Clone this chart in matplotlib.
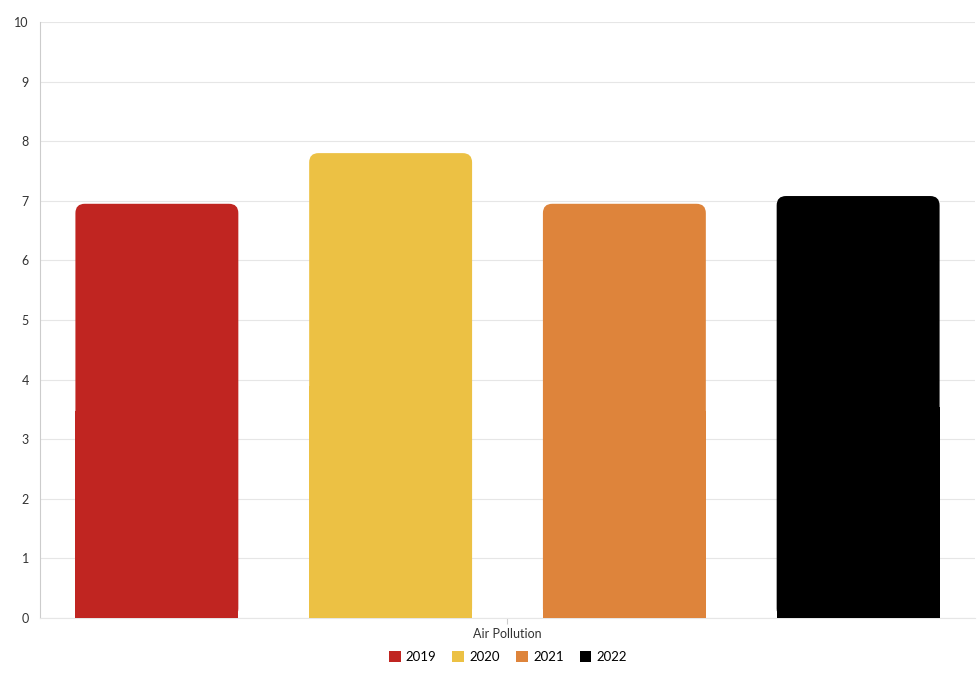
import matplotlib
matplotlib.use("Agg")
import matplotlib.pyplot as plt
from matplotlib.patches import FancyBboxPatch, Rectangle, Patch

plt.rcParams['font.family'] = ['Lato', 'DejaVu Sans']

series = ['2019', '2020', '2021', '2022']
values = [6.95, 7.8, 6.95, 7.08]
colors = ['#c02521', '#ecc144', '#de843b', '#000000']
category = 'Air Pollution'

fig = plt.figure(figsize=(9.79, 6.73), dpi=100)
ax = fig.add_axes([40/979, 1-618/673, 935/979, 596/673])
ax.set_xlim(-0.5, 3.5)
ax.set_ylim(0, 10)
w = 0.697
r = 0.04
aspect = (10/596) / (4/935)
for i, (v, c) in enumerate(zip(values, colors)):
    ax.add_patch(FancyBboxPatch((i - w/2, 0), w, v,
                 boxstyle=f"round,pad=0,rounding_size={r}",
                 mutation_aspect=aspect, fc=c, ec='none', zorder=3))
    ax.add_patch(Rectangle((i - w/2, 0), w, v/2, fc=c, ec='none', zorder=3))

ax.set_yticks(range(0, 11))
ax.set_xticks([1.5])
ax.set_xticklabels([category])
ax.tick_params(axis='y', length=0, labelsize=9, colors='#333333', pad=8)
ax.tick_params(axis='x', length=4, color='#cccccc', labelsize=9, colors='#333333')
ax.grid(axis='y', color='#e6e6e6', lw=0.8, zorder=0)
for s in ['top', 'right']:
    ax.spines[s].set_visible(False)
ax.spines['left'].set_color('#cccccc')
ax.spines['bottom'].set_color('#e6e6e6')

handles = [Patch(fc=c, ec='none', label=s) for s, c in zip(series, colors)]
fig.legend(handles=handles, loc='center', bbox_to_anchor=(508/979, 1-657/673),
           ncol=4, frameon=False, fontsize=9.5, handlelength=0.9, handleheight=0.9,
           handletextpad=0.4, columnspacing=1.2)
fig.savefig('out.png', dpi=100)
